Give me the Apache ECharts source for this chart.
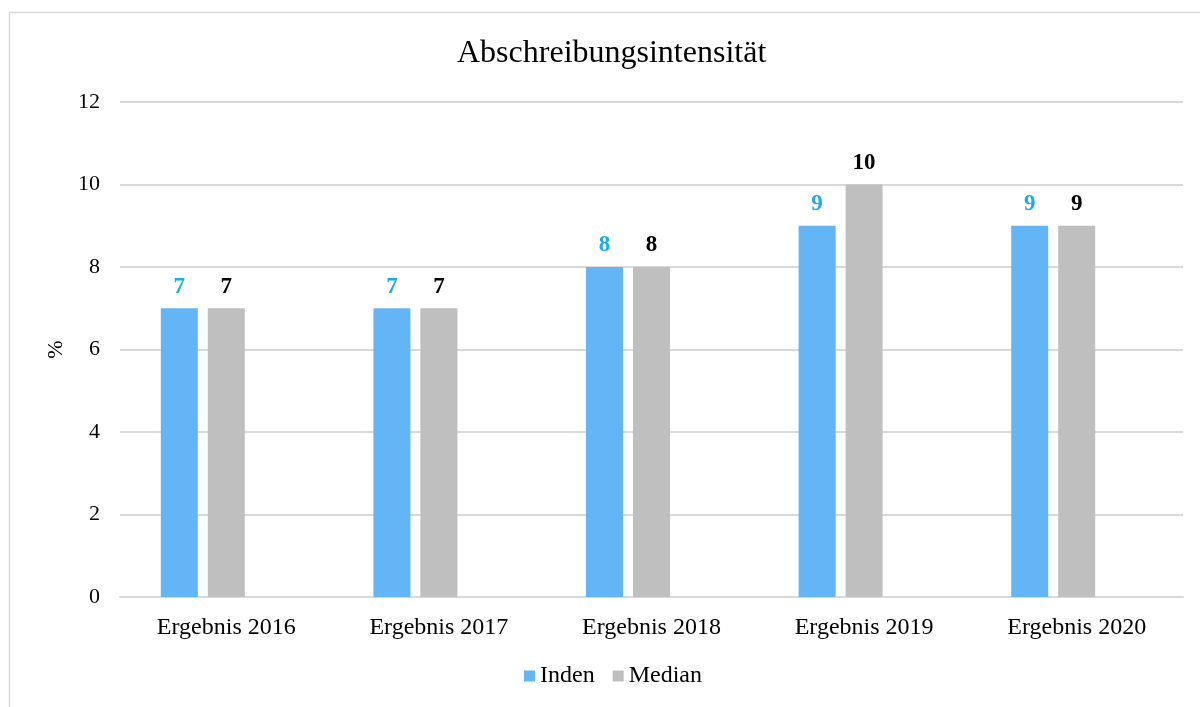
<!DOCTYPE html>
<html>
<head>
<meta charset="utf-8">
<script src="https://cdn.jsdelivr.net/npm/echarts@6/dist/echarts.min.js"></script>
<style>html,body{margin:0;padding:0;background:#fff;}#c{width:1200px;height:707px;}</style>
</head>
<body>
<div id="c"></div>
<script>
var categories = ['Ergebnis 2016', 'Ergebnis 2017', 'Ergebnis 2018', 'Ergebnis 2019', 'Ergebnis 2020'];
var inden = [7, 7, 8, 9, 9];
var median = [7, 7, 8, 10, 9];
var placeholder = [null, null, null, null, null];
var yTicks = [0, 2, 4, 6, 8, 10, 12];

var serif = '"Liberation Serif", "DejaVu Serif", serif';
var chart = echarts.init(document.getElementById('c'));
chart.setOption({
  animation: false,
  textStyle: { fontFamily: serif },
  graphic: [{
    type: 'rect', left: 7, top: 10, silent: true,
    shape: { width: 1205, height: 710 },
    style: { fill: 'none', stroke: '#d9d9d9', lineWidth: 1.5 }
  }],
  title: {
    text: 'Abschreibungsintensität', left: 452, top: 33,
    textStyle: { fontFamily: serif, fontSize: 32, fontWeight: 'normal', color: '#000' }
  },
  legend: {
    data: ['Inden', 'Median'], bottom: 14, left: 519,
    itemWidth: 11, itemHeight: 11, itemGap: 18, icon: 'rect',
    textStyle: { fontFamily: serif, fontSize: 24, color: '#000' }
  },
  grid: { left: 120, right: 17, top: 102, bottom: 110, containLabel: false },
  xAxis: {
    type: 'category', data: categories,
    axisLine: { lineStyle: { color: '#d9d9d9', width: 2 } },
    axisTick: { show: false },
    axisLabel: { fontFamily: serif, fontSize: 24, color: '#000', margin: 19 }
  },
  yAxis: {
    type: 'value', min: yTicks[0], max: yTicks[yTicks.length - 1], interval: 2,
    name: '%', nameLocation: 'middle', nameGap: 52, nameRotate: 90,
    nameTextStyle: { fontFamily: serif, fontSize: 22, color: '#000' },
    axisLine: { show: false }, axisTick: { show: false },
    axisLabel: { fontFamily: serif, fontSize: 22, color: '#000', margin: 20 },
    splitLine: { lineStyle: { color: '#d9d9d9', width: 2 } }
  },
  series: [
    {
      name: 'Inden', type: 'bar', data: inden, barWidth: 37, barGap: '27%',
      itemStyle: { color: '#64B5F6' },
      label: { show: true, position: 'top', distance: 10, fontFamily: serif, fontSize: 23, fontWeight: 'bold', color: '#1AADEE' }
    },
    {
      name: 'Median', type: 'bar', data: median, barWidth: 37, barGap: '27%',
      itemStyle: { color: '#BFBFBF' },
      label: { show: true, position: 'top', distance: 10, fontFamily: serif, fontSize: 23, fontWeight: 'bold', color: '#000' }
    },
    {
      name: '', type: 'bar', data: placeholder, barWidth: 37, barGap: '27%',
      itemStyle: { color: 'transparent' }
    }
  ]
});
</script>
</body>
</html>
